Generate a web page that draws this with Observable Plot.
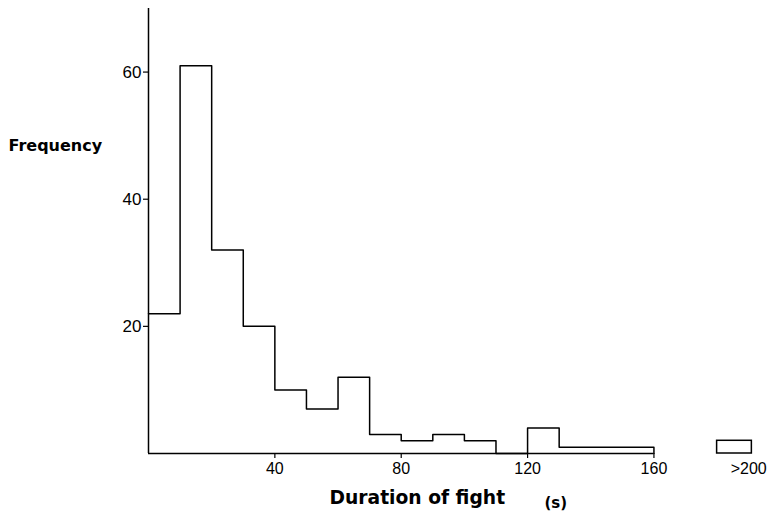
<!DOCTYPE html>
<html>
<head>
<meta charset="utf-8">
<script src="https://cdn.jsdelivr.net/npm/d3@7"></script>
<script src="https://cdn.jsdelivr.net/npm/@observablehq/plot@0.6"></script>
<style>
  html, body { margin: 0; padding: 0; background: white; }
  #chart { width: 771px; height: 517px; }
</style>
</head>
<body>
<div id="chart"></div>
<script>
// Bin starts (seconds), bin width 10 s
const binStarts = [0, 10, 20, 30, 40, 50, 60, 70, 80, 90, 100, 110, 120, 130, 140, 150];
const counts    = [22, 61, 32, 20, 10, 7, 12, 3, 2, 3, 2, 0, 4, 1, 1, 1];
const binEnd = 160;
// Overflow bin (>200 s), drawn apart from the main histogram
const overflowLabel = ">200";
const overflowBin = [180, 191];
const overflowCount = 2;
const overflowLabelPos = 190;
const xTicks = [40, 80, 120, 160];
const yTicks = [20, 40, 60];
const xTitle = "Duration of fight";
const xUnit = "(s)";
const yTitle = "Frequency";

const steps = binStarts.map((x, i) => ({x, y: counts[i]}));
steps.push({x: binEnd, y: 0});

const titleFont = "DejaVu Sans";

const chart = Plot.plot({
  width: 771,
  height: 517,
  marginLeft: 148,
  marginRight: 7,
  marginTop: 8,
  marginBottom: 64,
  x: {domain: [0, 195]},
  y: {domain: [0, 70]},
  style: {fontFamily: "Liberation Sans", fontSize: "16px", color: "black", background: "white"},
  marks: [
    Plot.ruleX([0], {y1: 0, y2: 70, strokeWidth: 1.5}),
    Plot.ruleY([0], {x1: 0, x2: binEnd, strokeWidth: 1.5}),
    Plot.line(steps, {x: "x", y: "y", curve: "step-after", stroke: "black", strokeWidth: 1.5}),
    Plot.rect([{x1: overflowBin[0], x2: overflowBin[1], y: overflowCount}],
      {x1: "x1", x2: "x2", y1: 0, y2: "y", fill: "none", stroke: "black", strokeWidth: 1.5}),
    Plot.axisX({ticks: xTicks, tickSize: 5, tickPadding: 4, label: null, fontSize: 16, strokeWidth: 1.2}),
    Plot.text([overflowLabel], {x: overflowLabelPos, frameAnchor: "bottom", dy: 9, fontSize: 16, lineAnchor: "top"}),
    Plot.axisY({ticks: yTicks, tickSize: 5, tickPadding: 2, label: null, fontSize: 17, strokeWidth: 1.2}),
    Plot.text([yTitle], {frameAnchor: "top-left", dx: -140, dy: 137, textAnchor: "start", lineAnchor: "middle",
      fontFamily: titleFont, fontWeight: "bold", fontSize: 16}),
    Plot.text([xTitle], {frameAnchor: "bottom-left", dx: 181, dy: 50, textAnchor: "start", lineAnchor: "bottom",
      fontFamily: titleFont, fontWeight: "bold", fontSize: 18.7}),
    Plot.text([xUnit], {frameAnchor: "bottom-left", dx: 396, dy: 54, textAnchor: "start", lineAnchor: "bottom",
      fontFamily: titleFont, fontWeight: "bold", fontSize: 15})
  ]
});
document.getElementById("chart").appendChild(chart);
</script>
</body>
</html>
